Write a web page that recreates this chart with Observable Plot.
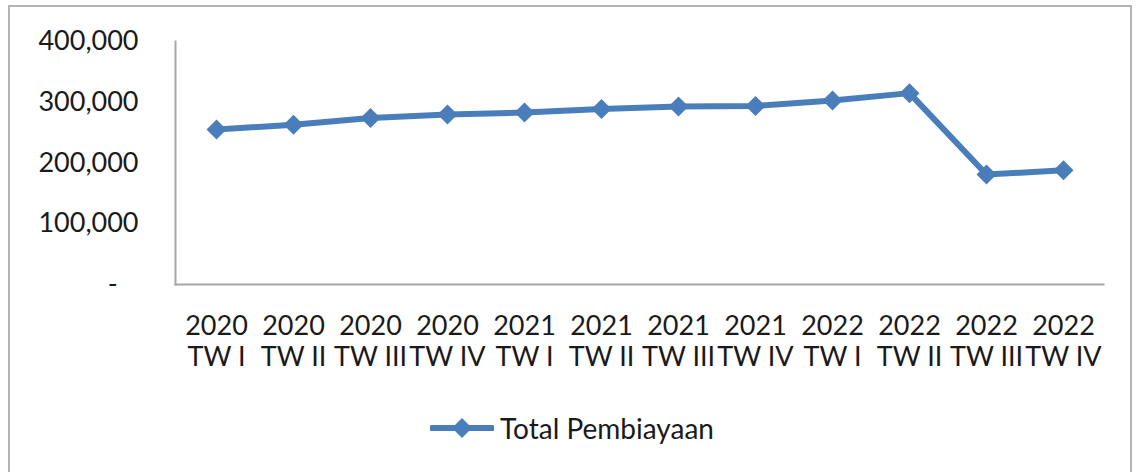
<!DOCTYPE html>
<html>
<head>
<meta charset="utf-8">
<script src="https://cdn.jsdelivr.net/npm/d3@7"></script>
<script src="https://cdn.jsdelivr.net/npm/@observablehq/plot@0.6"></script>
<style>
  html, body { margin: 0; padding: 0; background: #fff; }
  body { width: 1136px; height: 472px; position: relative; overflow: hidden; font-family: Lato, "Open Sans", sans-serif; }
  #border { position: absolute; left: 8px; top: 5px; width: 1124px; height: 470px; border: 2px solid #b4b4b4; box-sizing: border-box; }
  #chart { position: absolute; left: 0; top: 0; }
  #legend { position: absolute; left: 430px; top: 412px; height: 32px; display: flex; align-items: center; font-size: 28px; color: #1a1a1a; }
  #legend svg { margin-right: 6px; }
</style>
</head>
<body>
<div id="border"></div>
<div id="chart"></div>
<div id="legend"></div>
<script>
const years = ["2020","2020","2020","2020","2021","2021","2021","2021","2022","2022","2022","2022"];
const quarters = ["TW I","TW II","TW III","TW IV","TW I","TW II","TW III","TW IV","TW I","TW II","TW III","TW IV"];
const values = [255000, 263000, 274000, 280000, 283000, 289000, 293000, 294000, 303000, 315000, 181000, 188000];
const yTicks = [0, 100000, 200000, 300000, 400000];
const seriesName = "Total Pembiayaan";

const color = "#4a7ebb";
const labels = years.map((y, i) => y + " " + quarters[i]);
const data = labels.map((k, i) => ({key: k, value: values[i]}));
const labelMap = new Map(labels.map((k, i) => [k, years[i] + "\n" + quarters[i]]));

const fmt = d => d === 0 ? "-\u00a0\u00a0\u00a0" : d3.format(",")(d);

const chart = Plot.plot({
  width: 1136,
  height: 400,
  marginLeft: 175,
  marginRight: 33,
  marginTop: 41,
  marginBottom: 116,
  style: {fontFamily: "Lato, 'Open Sans', sans-serif", fontSize: "27px", color: "#1a1a1a", background: "transparent"},
  x: {type: "point", domain: labels, padding: 0.5},
  y: {domain: [0, 400000]},
  marks: [
    Plot.frame({anchor: "left", stroke: "#a6a6a6", strokeWidth: 2}),
    Plot.frame({anchor: "bottom", stroke: "#a6a6a6", strokeWidth: 2}),
    Plot.axisY({ticks: yTicks, tickFormat: fmt, tickSize: 0, tickPadding: 37, label: null, fontSize: 27, fill: "#1a1a1a"}),
    Plot.axisX({tickFormat: d => labelMap.get(d), tickSize: 0, tickPadding: 28, label: null, fontSize: 27, lineHeight: 1.15, fill: "#1a1a1a"}),
    Plot.line(data, {x: "key", y: "value", stroke: color, strokeWidth: 6}),
    Plot.dot(data, {x: "key", y: "value", symbol: "diamond2", r: 9, fill: color, stroke: "none"})
  ]
});
document.getElementById("chart").appendChild(chart);

// legend
const leg = document.getElementById("legend");
const sw = d3.create("svg").attr("width", 64).attr("height", 24);
sw.append("line").attr("x1", 2).attr("x2", 62).attr("y1", 12).attr("y2", 12)
  .attr("stroke", color).attr("stroke-width", 6).attr("stroke-linecap", "round");
sw.append("path").attr("d", d3.symbol(d3.symbolDiamond2, 256)()).attr("transform", "translate(32,12)").attr("fill", color);
leg.appendChild(sw.node());
const t = document.createElement("span");
t.textContent = seriesName;
leg.appendChild(t);
</script>
</body>
</html>
